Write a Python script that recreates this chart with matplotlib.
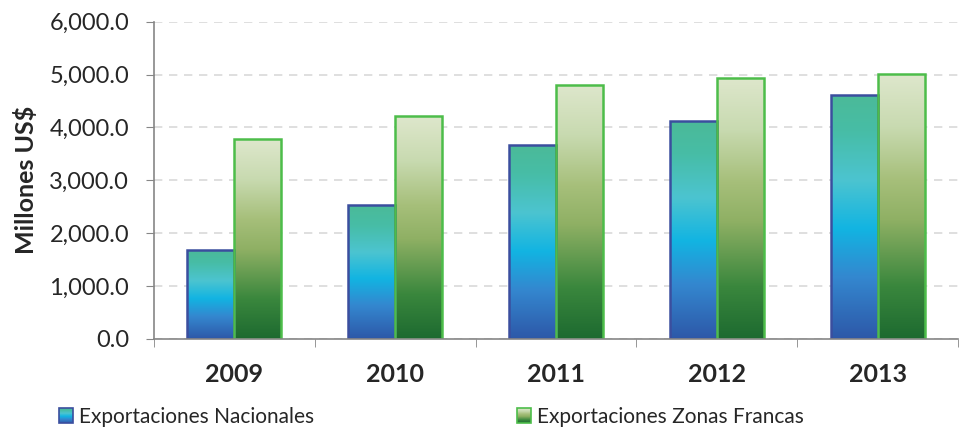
import numpy as np
import matplotlib.pyplot as plt
from matplotlib.colors import LinearSegmentedColormap
from matplotlib.patches import Rectangle
from matplotlib.legend_handler import HandlerBase
from matplotlib.image import BboxImage
from matplotlib.transforms import Bbox, TransformedBbox

plt.rcParams['font.family'] = ['Lato', 'DejaVu Sans']

years = ["2009", "2010", "2011", "2012", "2013"]
nacionales = [1690, 2530, 3670, 4120, 4620]
zonas_francas = [3780, 4210, 4810, 4940, 5010]
series_names = ["Exportaciones Nacionales", "Exportaciones Zonas Francas"]

blue_cmap = LinearSegmentedColormap.from_list("blue", [
    (0.0, "#2d58a8"), (0.25, "#3487cf"), (0.45, "#12b4e2"),
    (0.65, "#4cc4d0"), (0.85, "#47bda6"), (1.0, "#4bba98")])
green_cmap = LinearSegmentedColormap.from_list("green", [
    (0.0, "#1d6a30"), (0.2, "#3a873d"), (0.45, "#8fb064"),
    (0.6, "#a6bf7a"), (0.8, "#c8dab0"), (1.0, "#dee7cc")])
blue_edge = "#3b4e9e"
green_edge = "#4dbd4a"

grad = np.linspace(0, 1, 256).reshape(-1, 1)


def gradient_bar(ax, x0, w, h, cmap, edge):
    rect = Rectangle((x0, 0), w, h, facecolor="none", edgecolor=edge, linewidth=1.8, zorder=4)
    ax.add_patch(rect)
    im = ax.imshow(grad, extent=(x0, x0 + w, 0, h), origin="lower", aspect="auto",
                   cmap=cmap, zorder=3)
    im.set_clip_path(rect)


class GradientHandler(HandlerBase):
    def __init__(self, cmap, edge):
        super().__init__()
        self.cmap = cmap
        self.edge = edge

    def create_artists(self, legend, orig_handle, xdescent, ydescent, width, height, fontsize, trans):
        r = Rectangle((-xdescent, -ydescent), width, height, facecolor="none",
                      edgecolor=self.edge, linewidth=1.2, transform=trans)
        bb = TransformedBbox(Bbox.from_bounds(-xdescent, -ydescent, width, height), trans)
        img = BboxImage(bb, cmap=self.cmap, interpolation="bilinear", origin="lower")
        img.set_data(grad)
        return [img, r]


fig = plt.figure(figsize=(9.59, 4.32), dpi=100)
ax = fig.add_axes([0.1606, 0.2153, 0.8384, 0.7345])

x = np.arange(len(years))
w = 0.292
for i in range(len(years)):
    gradient_bar(ax, x[i] - w, w, nacionales[i], blue_cmap, blue_edge)
    gradient_bar(ax, x[i], w, zonas_francas[i], green_cmap, green_edge)

ax.set_xlim(-0.5, len(years) - 0.5)
ax.set_ylim(0, 6000)
ax.set_yticks(np.arange(0, 6001, 1000))
ax.set_yticklabels([f"{v:,.1f}" for v in np.arange(0, 6001, 1000)], fontsize=17, color="#262626")
ax.set_xticks(x)
ax.set_xticklabels(years, fontsize=18, fontweight="bold", color="#262626")
ax.set_xticks(np.arange(-0.5, len(years)), minor=True)
ax.tick_params(axis="x", which="major", length=0, pad=17)
ax.tick_params(axis="x", which="minor", length=6, color="#868686", direction="out")
ax.tick_params(axis="y", length=6, color="#868686", direction="out", pad=12)
ax.yaxis.grid(True, linestyle=(0, (5, 4)), color="#d9d9d9", linewidth=1.2, zorder=0)
ax.set_axisbelow(True)
for s in ["top", "right"]:
    ax.spines[s].set_visible(False)
for s in ["left", "bottom"]:
    ax.spines[s].set_color("#868686")
    ax.spines[s].set_linewidth(1.2)
ax.spines["bottom"].set_zorder(5)
ax.set_ylabel("Millones US$", fontsize=18, fontweight="bold", labelpad=8, color="#262626")

handles = [Rectangle((0, 0), 1, 1), Rectangle((0, 0), 1, 1)]
handlers = [GradientHandler(blue_cmap, blue_edge), GradientHandler(green_cmap, green_edge)]
for h, name, hd, x0 in zip(handles, series_names, handlers, [0.0615, 0.539]):
    leg = fig.legend([h], [name], loc="center left", bbox_to_anchor=(x0, 0.035),
                     frameon=False, fontsize=15, handlelength=0.67, handleheight=0.67,
                     handletextpad=0.3, borderpad=0, borderaxespad=0,
                     handler_map={h: hd}, labelcolor="#262626")

fig.savefig("out.png", dpi=100)
